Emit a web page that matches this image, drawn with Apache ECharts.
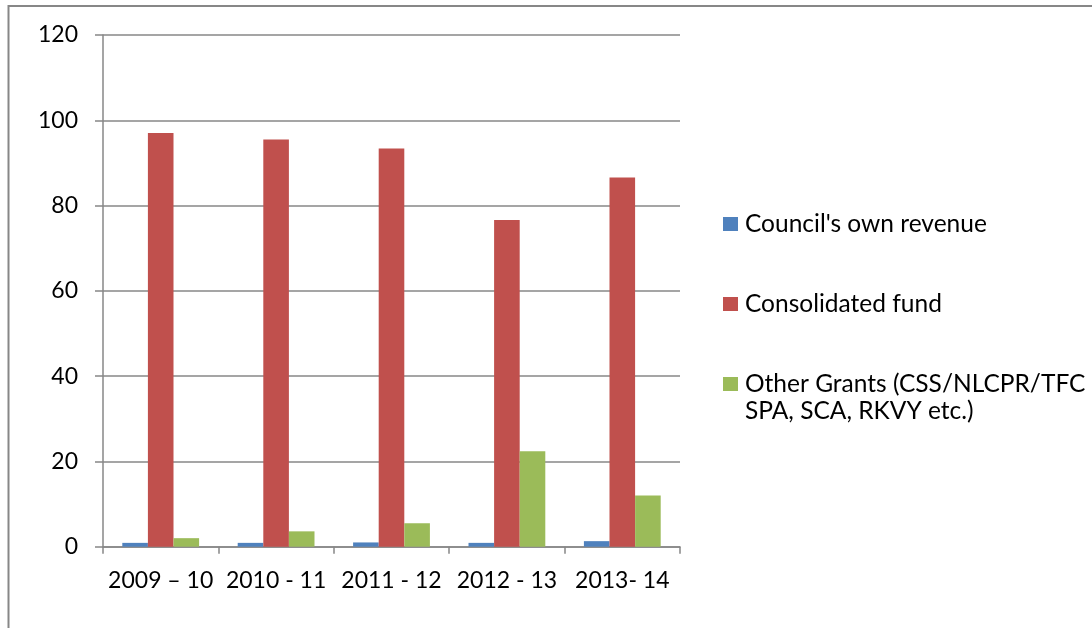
<!DOCTYPE html>
<html>
<head>
<meta charset="utf-8">
<script src="https://cdn.jsdelivr.net/npm/echarts@6/dist/echarts.min.js"></script>
<style>
  html, body { margin: 0; padding: 0; background: #ffffff; }
  #chart { width: 1092px; height: 628px; }
</style>
</head>
<body>
<div id="chart"></div>
<script>
// Funding sources of the council, per financial year (percent share)
const years = ['2009 – 10', '2010 - 11', '2011 - 12', '2012 - 13', '2013- 14'];
const ownRevenue = [0.9, 0.9, 1.0, 0.9, 1.3];
const consolidatedFund = [97.0, 95.5, 93.4, 76.6, 86.6];
const otherGrants = [2.0, 3.6, 5.5, 22.4, 12.0];
const yTicks = { min: 0, max: 120, interval: 20 };

const seriesNames = [
  "Council's own revenue",
  'Consolidated fund',
  'Other Grants (CSS/NLCPR/TFC'
];
const grantsSecondLine = 'SPA, SCA, RKVY etc.)';

const FONT = 'Lato';
const GREY = '#878787';
const LEGEND_SIZE = 24.5;

const chart = echarts.init(document.getElementById('chart'), null, { renderer: 'canvas' });

const barStyle = (color) => ({
  type: 'bar',
  barWidth: 25.6,
  barGap: '0%',
  itemStyle: { color: color },
  emphasis: { disabled: true }
});

chart.setOption({
  animation: false,
  backgroundColor: '#ffffff',
  grid: { left: 103, right: 412, top: 35, bottom: 81.3, containLabel: false },
  xAxis: {
    type: 'category',
    data: years,
    boundaryGap: true,
    axisLine: { lineStyle: { color: GREY, width: 1.5 } },
    axisTick: { show: true, length: 7, inside: false, lineStyle: { color: GREY, width: 1.5 } },
    axisLabel: { interval: 0, hideOverlap: false, margin: 22, color: '#000', fontFamily: FONT, fontSize: 23 }
  },
  yAxis: {
    type: 'value',
    min: yTicks.min,
    max: yTicks.max,
    interval: yTicks.interval,
    axisLine: { show: true, lineStyle: { color: GREY, width: 1.5 } },
    axisTick: { show: true, length: 8, lineStyle: { color: GREY, width: 1.5 } },
    axisLabel: { margin: 25, color: '#000', fontFamily: FONT, fontSize: 23 },
    splitLine: { show: true, lineStyle: { color: GREY, width: 1.5 } }
  },
  legend: {
    orient: 'vertical',
    left: 723,
    top: 210,
    padding: 0,
    itemWidth: 15,
    itemHeight: 14,
    itemGap: 52,
    icon: 'rect',
    selectedMode: false,
    textStyle: { color: '#000', fontFamily: FONT, fontSize: LEGEND_SIZE, lineHeight: 28, padding: [0, 0, 0, 2] },
    data: seriesNames
  },
  series: [
    Object.assign({ name: seriesNames[0], data: ownRevenue }, barStyle('#4F81BD')),
    Object.assign({ name: seriesNames[1], data: consolidatedFund }, barStyle('#C0504D')),
    Object.assign({ name: seriesNames[2], data: otherGrants }, barStyle('#9BBB59'))
  ],
  graphic: [
    {
      // chart frame (top and left edges visible)
      type: 'rect',
      shape: { x: 8.5, y: 6, width: 1200, height: 800 },
      style: { fill: 'none', stroke: GREY, lineWidth: 2 },
      silent: true
    },
    {
      type: 'text',
      left: 745,
      top: 399,
      style: { text: grantsSecondLine, fill: '#000', font: LEGEND_SIZE + 'px ' + FONT }
    }
  ]
});
</script>
</body>
</html>
